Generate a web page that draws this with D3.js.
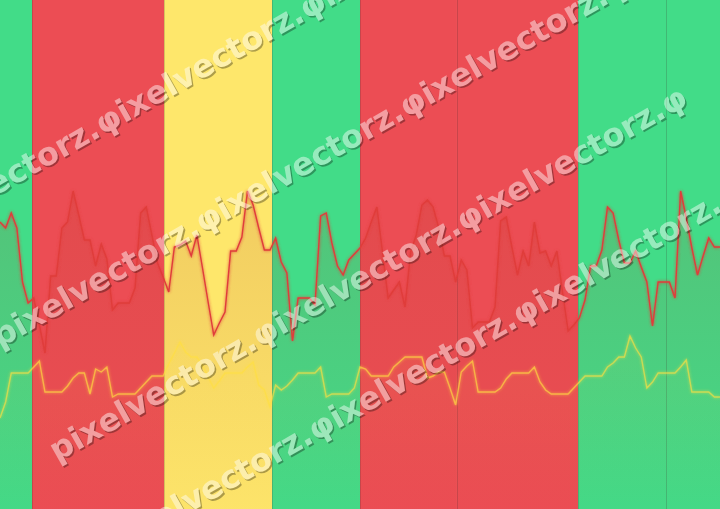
<!DOCTYPE html>
<html><head><meta charset="utf-8">
<script src="https://cdn.jsdelivr.net/npm/d3@7"></script>
<style>html,body{margin:0;padding:0;background:#fff;overflow:hidden}svg{display:block}</style>
</head><body>
<svg id="chart" width="720" height="509"></svg>
<script>
// ---- data ----
const bandEdges = [0, 5.69, 29.16, 48.36, 64, 81.24, 102.76, 118.4, 128];
const bandStatus = ["good", "bad", "warn", "good", "bad", "bad", "good", "good"];
const upperSeries = [
  287,281,296,281,227,206,211,184,156,233,
  233,281,287,318,294,269,269,243,265,250,
  199,206,206,206,221,296,302,274,246,232,
  217,262,264,268,253,274,241,207,174,186,
  197,258,258,272,318,304,281,259,259,271,
  247,236,168,211,211,211,204,293,296,266,
  243,234,249,255,261,271,287,302,257,211,
  219,227,202,257,274,304,309,302,281,253,
  253,227,249,239,181,187,187,187,202,288,
  292,262,234,258,243,287,256,258,243,258,
  217,178,184,191,209,243,243,259,302,296,
  269,246,246,258,242,227,183,227,227,227,
  211,318,291,261,234,253,271,262,262
];
const lowerSeries = [
  91,107,136,136,136,136,142,148,117,117,
  117,117,123,131,136,136,115,140,137,142,
  112,115,115,115,115,121,127,133,133,133,
  145,156,167,157,152,152,144,132,121,128,
  136,136,136,136,142,147,124,119,102,124,
  119,123,129,136,136,136,136,142,112,115,
  115,115,115,121,142,140,133,133,133,133,
  142,147,152,152,152,152,131,133,137,137,
  121,104,137,143,148,117,117,117,117,121,
  130,136,136,136,136,142,127,119,115,115,
  115,115,121,127,133,133,133,133,142,146,
  152,152,173,161,152,121,127,136,136,136,
  136,142,149,117,117,117,117,112,112
];
const watermarkRows = [
  "pixelvectorz.φixelvectorz.φixelvectorz.φixelvectorz.",
  "pixelvectorz.φixelvectorz.φixelvectorz.φixelvectorz.",
  "pixelvectorz.φixelvectorz.φixelvectorz.φ",
  "pixelvectorz.φixelvectorz.φixelvectorz.φixelvectorz."
];

// ---- drawing ----
const W = 720, H = 509;
const svg = d3.select("#chart");
const x = d3.scaleLinear().domain([0, upperSeries.length - 1]).range([0, W]);
const y = d3.scaleLinear().domain([0, H]).range([H, 0]);
const bandColor = d3.scaleOrdinal().domain(["good", "bad", "warn"]).range(["#42dc88", "#ec4d54", "#fee76b"]);

const defs = svg.append("defs");
const g1 = defs.append("linearGradient").attr("id", "upFill").attr("x1", 0).attr("y1", 0).attr("x2", 0).attr("y2", 1);
g1.append("stop").attr("offset", "0%").attr("stop-color", "#b0402a").attr("stop-opacity", 0.16);
g1.append("stop").attr("offset", "100%").attr("stop-color", "#b0402a").attr("stop-opacity", 0.02);
const g2 = defs.append("linearGradient").attr("id", "lowFill").attr("x1", 0).attr("y1", 0).attr("x2", 0).attr("y2", 1);
g2.append("stop").attr("offset", "0%").attr("stop-color", "#ffe050").attr("stop-opacity", 0.06);
g2.append("stop").attr("offset", "100%").attr("stop-color", "#ffe050").attr("stop-opacity", 0.0);
const glow = defs.append("filter").attr("id", "glow").attr("x", "-10%").attr("y", "-10%").attr("width", "120%").attr("height", "120%");
glow.append("feGaussianBlur").attr("in", "SourceGraphic").attr("stdDeviation", 1.6).attr("result", "b");
const m = glow.append("feMerge");
m.append("feMergeNode").attr("in", "b");
m.append("feMergeNode").attr("in", "SourceGraphic");

const bands = d3.range(bandStatus.length).map(i => ({ x0: bandEdges[i], x1: bandEdges[i + 1], s: bandStatus[i], i }));
svg.append("g").selectAll("rect").data(bands).join("rect")
  .attr("x", d => x(d.x0)).attr("y", 0)
  .attr("width", d => x(d.x1) - x(d.x0)).attr("height", H)
  .attr("fill", d => bandColor(d.s));
svg.append("g").selectAll("line").data(bandEdges.slice(1, -1)).join("line")
  .attr("x1", d => Math.round(x(d)) + 0.5).attr("x2", d => Math.round(x(d)) + 0.5)
  .attr("y1", 0).attr("y2", H)
  .attr("stroke", "rgba(60,40,40,0.2)").attr("stroke-width", 1);

const idx = d3.range(upperSeries.length);
const areaU = d3.area().x(i => x(i)).y0(H).y1(i => y(upperSeries[i]));
const areaL = d3.area().x(i => x(i)).y0(H).y1(i => y(lowerSeries[i]));
const lineU = d3.line().x(i => x(i)).y(i => y(upperSeries[i]));
const lineL = d3.line().x(i => x(i)).y(i => y(lowerSeries[i]));

svg.append("path").attr("d", areaU(idx)).attr("fill", "url(#upFill)");
svg.append("path").attr("d", areaL(idx)).attr("fill", "url(#lowFill)");
svg.append("path").attr("d", lineU(idx)).attr("fill", "none")
  .attr("stroke", "#e03c3a").attr("stroke-width", 1.4).attr("filter", "url(#glow)");
svg.append("path").attr("d", lineL(idx)).attr("fill", "none")
  .attr("stroke", "rgba(255,222,64,0.62)").attr("stroke-width", 1.4).attr("filter", "url(#glow)");

// ---- watermark ----
const angle = -29.5;
const rowStarts = [[-100, 250], [0, 348], [57, 462], [113, 556]];
const wm = svg.append("g").attr("font-family", "DejaVu Sans").attr("font-weight", "bold").attr("font-size", 32);
watermarkRows.forEach((t, k) => {
  const [rx, ry] = rowStarts[k];
  const row = wm.append("g").attr("opacity", 0.45);
  row.append("text").attr("transform", `translate(${rx + 1.6},${ry + 1.6}) rotate(${angle})`)
    .attr("fill", "rgba(0,0,0,0.7)").text(t);
  row.append("text").attr("transform", `translate(${rx},${ry}) rotate(${angle})`)
    .attr("fill", "#ffffff").text(t);
});
</script>
</body></html>
